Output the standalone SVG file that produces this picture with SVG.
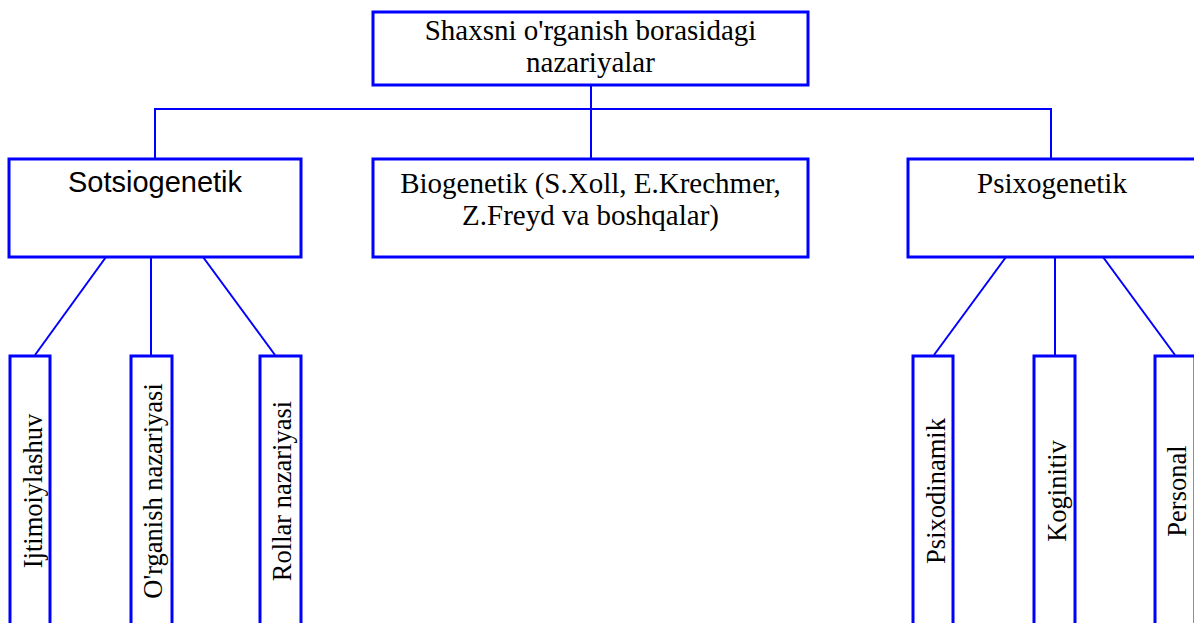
<svg xmlns="http://www.w3.org/2000/svg" width="1194" height="623" viewBox="0 0 1194 623">
<style>
.box{fill:#ffffff;stroke:#0000ff;stroke-width:3}
.ln{fill:none;stroke:#0000ff;stroke-width:2}
.t{font-family:"Liberation Serif","Times New Roman",serif;font-size:29px;fill:#000000;text-anchor:middle}
.s{font-family:"Liberation Sans",Arial,sans-serif;font-size:29px;fill:#000000;text-anchor:middle}
.v{font-family:"Liberation Serif","Times New Roman",serif;font-size:26.5px;fill:#000000;text-anchor:middle}
</style>
<rect width="1194" height="623" fill="#ffffff"/>
<g id="connectors">
<line class="ln" x1="591" y1="85" x2="591" y2="159"/>
<polyline class="ln" points="155,159 155,109 1051,109 1051,159"/>
<line class="ln" x1="106" y1="257" x2="35" y2="355"/>
<line class="ln" x1="151" y1="257" x2="151" y2="355"/>
<line class="ln" x1="203" y1="257" x2="275" y2="355"/>
<line class="ln" x1="1006" y1="257" x2="934" y2="355"/>
<line class="ln" x1="1055" y1="257" x2="1055" y2="355"/>
<line class="ln" x1="1103" y1="257" x2="1175" y2="355"/>
</g>
<g id="root">
<rect class="box" x="373" y="12" width="435" height="73"/>
<text class="t" x="590.5" y="40">Shaxsni o'rganish borasidagi</text>
<text class="t" x="590.5" y="72">nazariyalar</text>
</g>
<g id="sotsiogenetik">
<rect class="box" x="9" y="159" width="292" height="98"/>
<text class="s" x="155" y="192">Sotsiogenetik</text>
</g>
<g id="biogenetik">
<rect class="box" x="373" y="159" width="435" height="98"/>
<text class="t" x="590.5" y="193">Biogenetik (S.Xoll, E.Krechmer,</text>
<text class="t" x="590.5" y="225">Z.Freyd va boshqalar)</text>
</g>
<g id="psixogenetik">
<rect class="box" x="908" y="159" width="300" height="98"/>
<text class="t" x="1052" y="193">Psixogenetik</text>
</g>
<g id="ijtimoiylashuv">
<rect class="box" x="10" y="356" width="40" height="280"/>
<text class="v" transform="translate(42,491) rotate(-90)">Ijtimoiylashuv</text>
</g>
<g id="organish">
<rect class="box" x="131" y="356" width="41" height="280"/>
<text class="v" transform="translate(162,491) rotate(-90)">O'rganish nazariyasi</text>
</g>
<g id="rollar">
<rect class="box" x="260" y="356" width="41" height="280"/>
<text class="v" transform="translate(291,491) rotate(-90)">Rollar nazariyasi</text>
</g>
<g id="psixodinamik">
<rect class="box" x="913" y="356" width="40" height="280"/>
<text class="v" transform="translate(945,491) rotate(-90)">Psixodinamik</text>
</g>
<g id="koginitiv">
<rect class="box" x="1034" y="356" width="41" height="280"/>
<text class="v" transform="translate(1066,491) rotate(-90)">Koginitiv</text>
</g>
<g id="personal">
<rect class="box" x="1155" y="356" width="40" height="280"/>
<text class="v" transform="translate(1186,491) rotate(-90)">Personal</text>
</g>
</svg>
